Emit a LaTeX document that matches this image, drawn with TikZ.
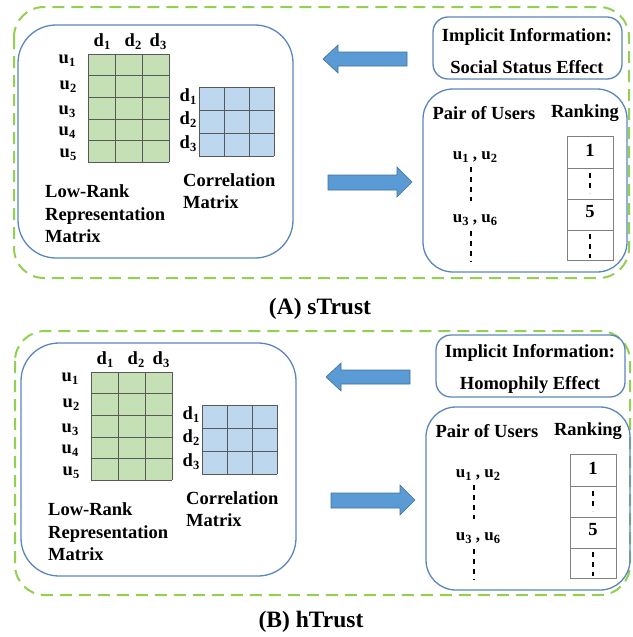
\documentclass[tikz,border=0pt]{standalone}
\usepackage{fontspec}
\setmainfont{Liberation Serif}
\definecolor{dgreen}{HTML}{92D050}
\definecolor{bline}{HTML}{5A86BC}
\definecolor{afill}{HTML}{5B9BD5}
\definecolor{aline}{HTML}{41719C}
\definecolor{mgreen}{HTML}{C5E0B4}
\definecolor{mblue}{HTML}{BDD7EE}
\newcommand\sbs[1]{\raisebox{-0.35ex}{\fontsize{12.5}{12.5}\selectfont #1}}
\tikzset{
  lbl/.style={font=\fontsize{18.5}{22.5}\selectfont\bfseries, inner sep=0pt},
  ulbl/.style={font=\fontsize{17}{20}\selectfont\bfseries, inner sep=0pt},
  captext/.style={font=\fontsize{23.5}{26}\selectfont\bfseries, inner sep=0pt},
  outerbox/.style={draw=dgreen, line width=2pt, dash pattern=on 12pt off 7pt, rounded corners=30pt},
  panelbox/.style={draw=bline, line width=1.3pt},
  blockarrow/.style={fill=afill, draw=aline, line width=0.6pt},
  gridl/.style={draw=black!65, line width=0.6pt},
  tabl/.style={draw=black!50, line width=0.8pt},
  dots/.style={draw=black, line width=1.2pt, dash pattern=on 5pt off 5pt},
}
\newcommand\panel[2]{%
  % left box
  \draw[panelbox, rounded corners=38pt] (18,25) rectangle (293,258);
  % green matrix
  \fill[mgreen] (88,54) rectangle (169,162);
  \foreach \xx in {88,115,142,169} \draw[gridl] (\xx,54) -- (\xx,162);
  \foreach \yy in {54,75.6,97.2,118.8,140.4,162} \draw[gridl] (88,\yy) -- (169,\yy);
  \node[lbl] (#1-cd1) at (102,42) {d\sbs{1}};
  \node[lbl] (#1-cd2) at (133,42) {d\sbs{2}};
  \node[lbl] (#1-cd3) at (158,42) {d\sbs{3}};
  \node[lbl] (#1-u1) at (67,61) {u\sbs{1}};
  \node[lbl] (#1-u2) at (68,87) {u\sbs{2}};
  \node[lbl] (#1-u3) at (67,112) {u\sbs{3}};
  \node[lbl] (#1-u4) at (67,133) {u\sbs{4}};
  \node[lbl] (#1-u5) at (68,155) {u\sbs{5}};
  % blue matrix
  \fill[mblue] (199,87) rectangle (274,156);
  \foreach \xx in {199,224,249,274} \draw[gridl] (\xx,87) -- (\xx,156);
  \foreach \yy in {87,110,133,156} \draw[gridl] (199,\yy) -- (274,\yy);
  \node[lbl] (#1-rd1) at (188,97) {d\sbs{1}};
  \node[lbl] (#1-rd2) at (188,120) {d\sbs{2}};
  \node[lbl] (#1-rd3) at (188,144) {d\sbs{3}};
  \node[lbl, anchor=west, align=left] (#1-lr) at (45,214) {Low-Rank\\Representation\\Matrix};
  \node[lbl, anchor=west, align=left] (#1-corr) at (183,191) {Correlation\\Matrix};
  % implicit info box
  \draw[panelbox, rounded corners=15pt] (433,17) rectangle (622,79);
  \node[lbl, font=\fontsize{18.5}{32}\selectfont\bfseries, align=center] (#1-impl) at (527,51) {Implicit Information:\\#2};
  % ranking box
  \draw[panelbox, rounded corners=30pt] (423,89) rectangle (627,272);
  \node[lbl] (#1-pair) at (484,113) {Pair of Users};
  \node[lbl] (#1-rank) at (585,113) {Ranking};
  \draw[tabl] (567,136) rectangle (613,260);
  \foreach \yy in {168,199,230} \draw[tabl] (567,\yy) -- (613,\yy);
  \node[lbl] (#1-r1) at (590,150) {1};
  \node[lbl] (#1-r5) at (590,212) {5};
  \draw[dots] (590,173) -- (590,193);
  \draw[dots] (590,234) -- (590,258);
  \node[ulbl] (#1-p12) at (475,157) {u\sbs{1} , u\sbs{2}};
  \node[ulbl] (#1-p36) at (475,220) {u\sbs{3} , u\sbs{6}};
  \coordinate (#1-e1) at (471,201);
  \coordinate (#1-e2) at (471,261);
  \draw[dots] (#1-e1 |- #1-p12.south) ++(0,5) -- (#1-e1);
  \draw[dots] (#1-e2 |- #1-p36.south) ++(0,5) -- (#1-e2);
  % block arrows
  \draw[blockarrow] (323,59) -- (338,45) -- (338,52) -- (407,52) -- (407,66) -- (338,66) -- (338,73) -- cycle;
  \draw[blockarrow] (412,182) -- (397,167) -- (397,175) -- (328,175) -- (328,190) -- (397,190) -- (397,197) -- cycle;
}
\begin{document}
\begin{tikzpicture}[x=1pt,y=-1pt]
  \useasboundingbox (0,0) rectangle (632,637);
  \draw[outerbox] (14,7) rectangle (629,278);
  \draw[outerbox] (15,331) rectangle (630,595);
  \panel{A}{Social Status Effect}
  \begin{scope}[shift={(3,318)}]
    \panel{B}{Homophily Effect}
  \end{scope}
  \node[captext] (capA) at (320,309) {(A) sTrust};
  \node[captext] (capB) at (311,622) {(B) hTrust};
\end{tikzpicture}
\end{document}
